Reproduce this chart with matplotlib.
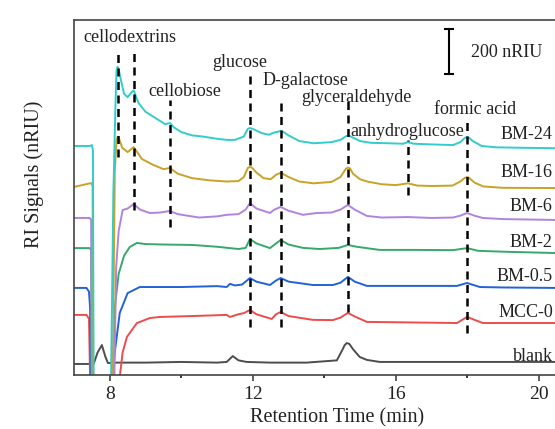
#!/usr/bin/env python3
"""
HPLC RI chromatograms of ball-milled cellulose hydrolysates
"""

import matplotlib
matplotlib.use('Agg')
import matplotlib.pyplot as plt
from matplotlib.ticker import MultipleLocator

plt.rcParams['font.family'] = ['Liberation Serif', 'DejaVu Serif']

# retention time (min) / signal (nRIU)
bm24_t = [7.0, 7.45, 7.50, 7.53, 7.55, 8.03, 8.10, 8.16, 8.19, 8.22, 8.25, 8.30, 8.40, 8.50,
          8.60, 8.67, 8.80, 9.0, 9.2, 9.45, 9.55, 9.68, 9.8, 10.0, 10.3, 10.6, 11.0, 11.27,
          11.5, 11.75, 11.86, 11.92, 11.98, 12.05, 12.25, 12.45, 12.6, 12.72, 12.78, 12.84,
          13.0, 13.3, 13.7, 14.2, 14.45, 14.60, 14.66, 14.72, 14.8, 15.0, 15.3, 15.8, 16.2,
          16.34, 16.5, 17.0, 17.6, 17.8, 17.93, 17.99, 18.05, 18.15, 18.4, 18.8, 19.5, 20.5]
bm24_v = [1018, 1018, 1022, 1000, -100, -100, 800, 1200, 1355, 1370, 1360, 1320, 1250, 1235,
          1255, 1265, 1210, 1170, 1150, 1125, 1115, 1120, 1100, 1080, 1065, 1060, 1050, 1045,
          1045, 1060, 1094, 1098, 1095, 1090, 1075, 1068, 1078, 1082, 1085, 1082,
          1065, 1040, 1030, 1035, 1045, 1061, 1065, 1062, 1055, 1040, 1032, 1030, 1028,
          1035, 1028, 1025, 1022, 1035, 1054, 1058, 1054, 1040, 1018, 1012, 1010, 1008]

bm16_t = [7.0, 7.48, 7.52, 7.54, 8.08, 8.14, 8.19, 8.22, 8.26, 8.35, 8.50, 8.67, 8.9, 9.2, 9.5,
          9.68, 9.9, 10.3, 10.8, 11.27, 11.6, 11.75, 11.86, 11.92, 11.98, 12.1, 12.3, 12.5,
          12.65, 12.72, 12.78, 12.84, 13.0, 13.3, 13.7, 14.2, 14.45, 14.60, 14.66, 14.72, 14.8,
          15.0, 15.2, 15.6, 16.0, 16.34, 16.6, 17.0, 17.59, 17.8, 17.93, 17.99, 18.05, 18.2,
          18.45, 19.0, 20.5]
bm16_v = [836, 853, 840, -100, -100, 900, 1045, 1058, 1050, 1010, 991, 1013, 960, 935, 915,
          920, 895, 875, 865, 860, 862, 880, 920, 925, 921, 900, 875, 870,
          890, 895, 898, 894, 880, 860, 852, 858, 880, 916, 922, 918, 895,
          870, 860, 848, 844, 852, 842, 840, 842, 860, 876, 880, 876, 855,
          838, 832, 831]

bm6_t = [7.0, 7.44, 7.48, 7.50, 8.12, 8.18, 8.25, 8.36, 8.50, 8.67, 8.85, 9.12, 9.4, 9.68,
         9.9, 10.5, 11.0, 11.27, 11.6, 11.8, 11.92, 12.1, 12.48, 12.6, 12.78, 13.0, 13.4,
         13.79, 14.2, 14.45, 14.66, 14.85, 15.19, 15.6, 16.34, 17.0, 17.6, 17.8, 17.99, 18.2,
         18.43, 19.0, 20.5]
bm6_v = [698, 698, 690, -100, -100, 480, 640, 733, 740, 760, 735, 720, 722, 729,
         715, 700, 705, 712, 715, 735, 764, 740, 720, 735, 747, 730, 712,
         720, 722, 735, 756, 735, 707, 700, 702, 698, 700, 708, 720, 708,
         698, 693, 689]

bm2_t = [7.0, 7.44, 7.48, 7.50, 8.10, 8.14, 8.25, 8.40, 8.56, 8.76, 9.0, 9.5, 10.32, 11.0,
         11.6, 11.8, 11.92, 12.1, 12.48, 12.65, 12.78, 13.0, 13.4, 13.87, 14.4, 14.66, 14.9,
         15.55, 16.5, 17.6, 17.99, 18.3, 19.0, 20.5]
bm2_v = [564, 564, 555, -100, -100, 300, 450, 530, 569, 587, 582, 580, 578, 570,
         560, 565, 604, 585, 564, 585, 600, 580, 565, 560, 565, 578, 570,
         556, 556, 555, 564, 552, 548, 542]

bm05_t = [7.0, 7.35, 7.42, 7.45, 7.48, 8.05, 8.08, 8.14, 8.28, 8.5, 8.84, 9.4, 10.0, 10.5,
          11.0, 11.27, 11.36, 11.5, 11.7, 11.92, 12.1, 12.48, 12.65, 12.78, 13.0, 13.68, 14.24,
          14.45, 14.66, 14.85, 15.19, 15.6, 17.71, 17.99, 18.35, 19.0, 20.5]
bm05_v = [387, 387, 370, 300, -100, -100, 0, 100, 276, 364, 391, 391, 391, 393,
          395, 391, 405, 398, 402, 431, 415, 400, 420, 431, 415, 400, 400,
          410, 436, 415, 396, 396, 396, 409, 391, 389, 387]

mcc0_t = [7.0, 7.35, 7.42, 7.46, 8.22, 8.28, 8.36, 8.48, 8.76, 9.12, 9.4, 10.3, 11.27, 11.36,
          11.6, 11.75, 11.92, 12.1, 12.53, 12.65, 12.78, 13.0, 13.68, 14.24, 14.45, 14.66,
          14.85, 15.19, 17.71, 17.99, 18.43, 20.5]
mcc0_v = [267, 267, 250, -100, -100, -10, 100, 169, 231, 253, 258, 262, 267, 258,
          270, 275, 289, 270, 249, 270, 280, 262, 245, 244, 255, 276,
          260, 236, 231, 258, 231, 231]

blank_t = [7.0, 7.55, 7.66, 7.78, 7.88, 7.95, 8.2, 9.0, 10.0, 11.0, 11.27, 11.44, 11.6, 11.83,
           12.5, 13.5, 14.35, 14.5, 14.57, 14.63, 14.70, 14.8, 14.99, 15.19, 15.55, 17.0, 20.5]
blank_v = [49, 49, 100, 133, 80, 53, 55, 55, 58, 55, 58, 84, 65, 58,
           55, 55, 65, 110, 133, 142, 138, 115, 80, 67, 58, 58, 58]

# drawn bottom -> top so BM-24 ends up on top
traces = [
    ('blank', blank_t, blank_v, '#4d4d4d', 80),
    ('MCC-0', mcc0_t, mcc0_v, '#ee4b4b', 276),
    ('BM-0.5', bm05_t, bm05_v, '#2262d8', 436),
    ('BM-2', bm2_t, bm2_v, '#35a96b', 591),
    ('BM-6', bm6_t, bm6_v, '#b083e0', 747),
    ('BM-16', bm16_t, bm16_v, '#c9a227', 902),
    ('BM-24', bm24_t, bm24_v, '#33cccc', 1067),
]

# peak markers: name, retention time, dashed line span (nRIU), label position
peak_names = ['cellodextrins', '', 'cellobiose', 'glucose', 'D-galactose',
              'glyceraldehyde', 'anhydroglucose', 'formic acid']
peak_times = [8.22, 8.67, 9.68, 11.92, 12.78, 14.66, 16.34, 17.99]
peak_top = [1449, 1431, 1222, 1351, 1231, 1222, 1044, 1142]
peak_bottom = [969, 733, 658, 213, 213, 280, 800, 187]
label_x = [8.56, None, 10.10, 11.64, 13.48, 14.91, 16.31, 18.21]
label_y = [1502, None, 1262, 1387, 1311, 1235, 1084, 1182]

fig = plt.figure(figsize=(5.55, 4.29), dpi=100)
ax = fig.add_axes([0.1333, 0.1259, 0.8667, 0.8275])

for name, t, v, c, ly in traces:
    ax.plot(t, v, color=c, lw=1.4, solid_joinstyle='round')
    ax.text(20.39, ly, name, ha='right', va='center', fontsize=13, color='#222222')

for i, t in enumerate(peak_times):
    ax.plot([t, t], [peak_bottom[i], peak_top[i]], color='black', lw=1.8,
            dashes=(3.2, 2.2))
    if peak_names[i]:
        ax.text(label_x[i], label_y[i], peak_names[i], ha='center', va='center',
                fontsize=13, color='#222222')

# 200 nRIU scale bar
ax.plot([17.48, 17.48], [1338, 1538], color='black', lw=1.5, marker='_', ms=7, mew=1.5)
ax.text(18.10, 1435, '200 nRIU', ha='left', va='center', fontsize=13, color='#222222')

ax.set_xlim(7.0, 20.45)
ax.set_ylim(0, 1578)
ax.xaxis.set_major_locator(MultipleLocator(4))
ax.xaxis.set_minor_locator(MultipleLocator(2))
ax.set_xticks([8, 12, 16, 20])
ax.tick_params(axis='x', which='major', direction='out', length=4, width=1.1,
               labelsize=14, pad=4, colors='#333333')
ax.tick_params(axis='x', which='minor', direction='out', length=2.5, width=1.1)
ax.tick_params(axis='x', labelcolor='#222222')
ax.set_yticks([])

for s in ['left', 'top', 'bottom']:
    ax.spines[s].set_linewidth(1.2)
    ax.spines[s].set_color('#444444')
ax.spines['right'].set_visible(False)

ax.set_xlabel('Retention Time (min)', fontsize=14.5, color='#222222')
ax.xaxis.set_label_coords(0.547, -0.093)
ax.set_ylabel('RI Signals (nRIU)', fontsize=14.5, color='#222222')
ax.yaxis.set_label_coords(-0.062, 0.566)

fig.savefig('out.png', dpi=100)
plt.close(fig)
